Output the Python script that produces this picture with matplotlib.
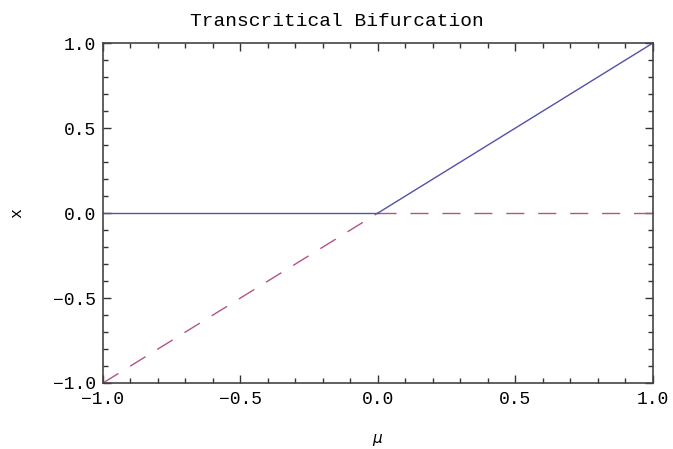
import matplotlib.pyplot as plt
from matplotlib.ticker import MultipleLocator

# branch data: mu values and fixed points x*
mu_left = [-1.0, 0.0]
mu_right = [0.0, 1.0]
stable_left = [0.0, 0.0]      # x* = 0 stable for mu < 0
stable_right = [0.0, 1.0]     # x* = mu stable for mu > 0
unstable_left = [-1.0, 0.0]   # x* = mu unstable for mu < 0
unstable_right = [0.0, 0.0]   # x* = 0 unstable for mu > 0

ticks = [-1.0, -0.5, 0.0, 0.5, 1.0]
tick_labels = ['\u22121.0', '\u22120.5', '0.0', '0.5', '1.0']

plt.rcParams['lines.scale_dashes'] = False
mono = 'Liberation Mono'

fig = plt.figure(figsize=(6.73, 4.49), dpi=100)
ax = fig.add_axes([0.153, 0.147, 0.817, 0.757])

blue = '#5252a8'
purple = '#b0548a'

ax.plot(mu_left, unstable_left, color=purple, lw=1.0, linestyle=(0, (13, 10)))
ax.plot(mu_right, unstable_right, color=purple, lw=1.0, linestyle=(0, (13, 10)))
ax.plot(mu_left, stable_left, color=blue, lw=1.0)
ax.plot(mu_right, stable_right, color=blue, lw=1.0)

ax.set_xlim(-1, 1)
ax.set_ylim(-1, 1)
ax.set_xticks(ticks)
ax.set_yticks(ticks)
ax.set_xticklabels(tick_labels, family=mono, fontsize=13)
ax.set_yticklabels(tick_labels, family=mono, fontsize=13)
ax.xaxis.set_minor_locator(MultipleLocator(0.1))
ax.yaxis.set_minor_locator(MultipleLocator(0.1))
ax.tick_params(which='both', direction='in', top=True, right=True, color='#333333', width=1.0)
ax.tick_params(which='major', length=6)
ax.tick_params(axis='x', which='major', pad=6)
ax.tick_params(axis='y', which='major', pad=5)
ax.tick_params(which='minor', length=3.5)
for s in ax.spines.values():
    s.set_color('#444444')
    s.set_linewidth(1.2)

fig.suptitle('Transcritical Bifurcation', family=mono, fontsize=14, x=0.5, y=0.972)
ax.set_xlabel('$\\mu$', fontsize=11, labelpad=17)
ax.set_ylabel('x', family=mono, fontsize=12, labelpad=21)

fig.savefig('out.png', dpi=100)
